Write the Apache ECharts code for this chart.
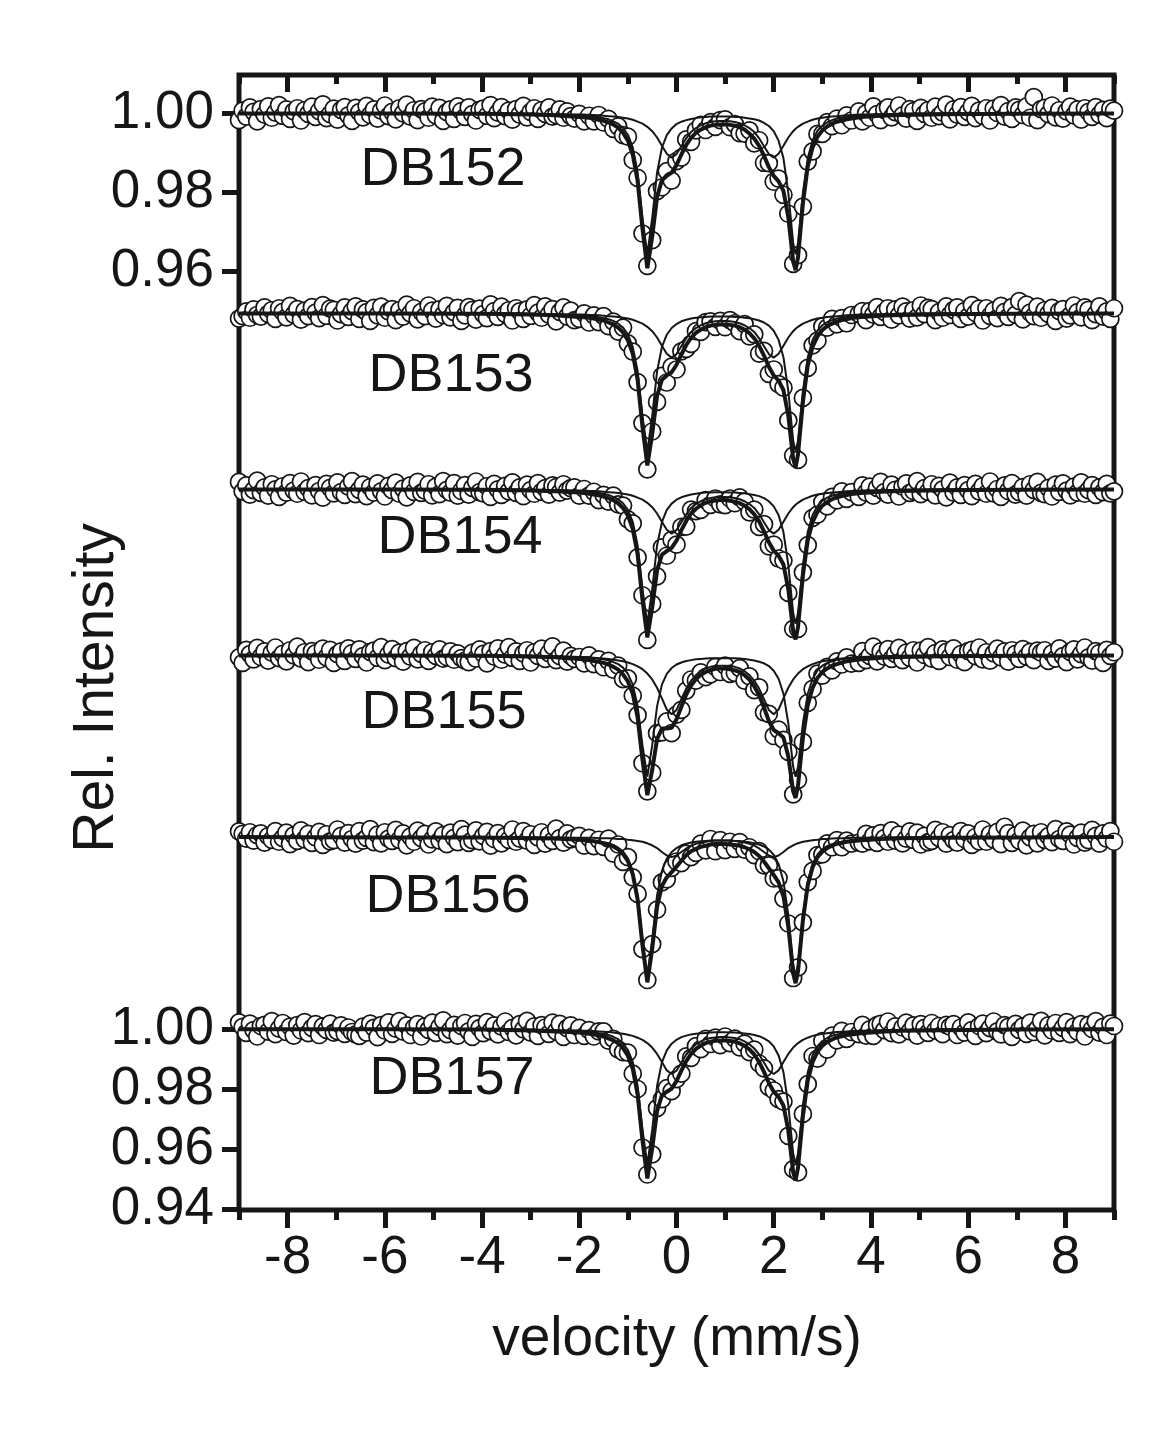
<!DOCTYPE html>
<html><head><meta charset="utf-8">
<script src="https://cdn.jsdelivr.net/npm/echarts@6/dist/echarts.min.js"></script>
<style>html,body{margin:0;padding:0;background:#fff}#chart{width:1169px;height:1433px}</style>
</head><body><div id="chart"></div>
<script>
// ---------- DATA ----------
const spectrumNames = ['DB152','DB153','DB154','DB155','DB156','DB157'];
const xTitle = 'velocity (mm/s)';
const yTitle = 'Rel. Intensity';
const xMajorTicks = [-8,-6,-4,-2,0,2,4,6,8];
const xMinorTicks = [-9,-7,-5,-3,-1,1,3,5,7,9];
const topYTicks = [0.96,0.98,1.00];
const bottomYTicks = [0.94,0.96,0.98,1.00];

// measured channels (mm/s)
const velocity = [-9,-8.925,-8.85,-8.775,-8.7,-8.625,-8.55,-8.475,-8.4,-8.325,-8.25,-8.175,-8.1,-8.025,-7.95,-7.875,-7.8,-7.725,-7.65,-7.575,-7.5,-7.425,-7.35,-7.275,-7.2,-7.125,-7.05,-6.975,-6.9,-6.825,-6.75,-6.675,-6.6,-6.525,-6.45,-6.375,-6.3,-6.225,-6.15,-6.075,-6,-5.925,-5.85,-5.775,-5.7,-5.625,-5.55,-5.475,-5.4,-5.325,-5.25,-5.175,-5.1,-5.025,-4.95,-4.875,-4.8,-4.725,-4.65,-4.575,-4.5,-4.425,-4.35,-4.275,-4.2,-4.125,-4.05,-3.975,-3.9,-3.825,-3.75,-3.675,-3.6,-3.525,-3.45,-3.375,-3.3,-3.225,-3.15,-3.075,-3,-2.925,-2.85,-2.775,-2.7,-2.625,-2.55,-2.475,-2.4,-2.325,-2.25,-2.175,-2.1,
-2,-1.9,-1.8,-1.7,-1.6,-1.5,-1.4,-1.3,-1.2,-1.1,-1,-0.9,-0.8,-0.7,-0.6,-0.5,-0.4,-0.3,-0.2,-0.1,0,0.1,0.2,0.3,0.4,0.5,0.6,0.7,0.8,0.9,1,1.1,1.2,1.3,1.4,1.5,1.6,1.7,1.8,1.9,2,2.1,2.2,2.3,2.4,2.5,2.6,2.7,2.8,2.9,3,3.1,3.2,3.3,3.4,3.5,3.6,
3.75,3.825,3.9,3.975,4.05,4.125,4.2,4.275,4.35,4.425,4.5,4.575,4.65,4.725,4.8,4.875,4.95,5.025,5.1,5.175,5.25,5.325,5.4,5.475,5.55,5.625,5.7,5.775,5.85,5.925,6,6.075,6.15,6.225,6.3,6.375,6.45,6.525,6.6,6.675,6.75,6.825,6.9,6.975,7.05,7.125,7.2,7.275,7.35,7.425,7.5,7.575,7.65,7.725,7.8,7.875,7.95,8.025,8.1,8.175,8.25,8.325,8.4,8.475,8.55,8.625,8.7,8.775,8.85,8.925,9];

// velocities of the fitted curves (mm/s)
const fitVelocity = [-9,-6,-4,-3,-2.5,-2,-1.9,-1.8,-1.7,-1.6,-1.5,-1.4,-1.3,-1.2,-1.1,-1,-0.9,-0.8,-0.7,-0.6,-0.5,-0.4,-0.3,-0.2,-0.1,0,0.1,0.2,0.3,0.4,0.5,0.6,0.7,0.8,0.9,1,1.1,1.2,1.3,1.4,1.5,1.6,1.7,1.8,1.9,2,2.1,2.2,2.3,2.4,2.45,2.5,2.6,2.7,2.8,2.9,3,3.1,3.2,3.3,3.4,3.5,3.6,3.8,4.2,4.6,5.5,7,9];

// DB152
const db152Data = [0.9982,1.0006,0.9991,1.0014,1.0003,0.9979,1.0010,0.9996,1.0017,0.9988,1.0001,1.0020,0.9993,1.0009,0.9985,1.0004,1.0012,0.9981,1.0007,0.9998,1.0016,0.9990,1.0005,1.0022,0.9987,0.9997,1.0011,0.9983,1.0008,1.0015,0.9994,0.9980,1.0013,1.0002,0.9989,1.0018,0.9995,1.0009,0.9986,1.0006,1.0019,0.9992,1.0003,0.9984,1.0012,0.9999,1.0021,0.9991,1.0007,0.9982,1.0010,1.0004,0.9988,1.0016,0.9994,1.0013,0.9980,1.0002,1.0009,0.9985,1.0017,1.0005,0.9990,1.0014,0.9997,0.9981,1.0008,1.0011,0.9993,1.0020,0.9987,1.0001,1.0015,0.9992,1.0006,0.9983,1.0010,0.9996,1.0018,0.9989,1.0003,1.0012,0.9985,1.0007,0.9998,1.0014,0.9991,0.9995,1.0009,0.9988,1.0004,0.9992,0.9986,
0.9998,0.9979,0.9993,0.9979,0.9995,0.9976,0.9985,0.9960,0.9966,0.9944,0.9940,0.9881,0.9836,0.9695,0.9613,0.9678,0.9802,0.9812,0.9853,0.9829,0.9878,0.9887,0.9933,0.9927,0.9956,0.9970,0.9957,0.9977,0.9965,0.9982,0.9984,0.9964,0.9972,0.9949,0.9948,0.9956,0.9923,0.9931,0.9874,0.9873,0.9826,0.9834,0.9793,0.9745,0.9618,0.9640,0.9763,0.9877,0.9903,0.9947,0.9947,0.9977,0.9967,0.9986,0.9969,0.9994,0.9981,
1.0004,0.9979,0.9999,0.9988,1.0017,0.9997,0.9982,1.0008,1.0014,0.9989,1.0002,1.0019,0.9994,0.9986,1.0010,1.0005,0.9980,1.0013,0.9998,1.0007,0.9988,1.0016,0.9992,1.0001,1.0021,0.9984,1.0009,0.9996,1.0015,0.9990,1.0003,1.0018,0.9987,1.0006,0.9993,1.0012,0.9981,1.0011,1.0000,1.0020,0.9991,1.0005,0.9985,1.0014,1.0008,0.9995,1.0017,0.9988,1.0040,0.9982,1.0010,1.0013,0.9997,1.0019,0.9989,1.0007,0.9986,1.0004,1.0016,0.9994,1.0009,0.9983,1.0012,1.0003,0.9990,1.0015,0.9996,1.0008,0.9987,1.0011,1.0006];
const db152Fit = [0.9999,0.9999,0.9998,0.9996,0.9994,0.9990,0.9989,0.9988,0.9986,0.9983,0.9980,0.9976,0.9971,0.9963,0.9950,0.9930,0.9895,0.9828,0.9707,0.9607,0.9687,0.9787,0.9830,0.9841,0.9849,0.9868,0.9895,0.9919,0.9937,0.9950,0.9958,0.9964,0.9968,0.9970,0.9971,0.9971,0.9970,0.9968,0.9964,0.9958,0.9948,0.9935,0.9917,0.9892,0.9863,0.9841,0.9827,0.9803,0.9736,0.9624,0.9602,0.9635,0.9771,0.9865,0.9913,0.9940,0.9956,0.9966,0.9973,0.9978,0.9981,0.9984,0.9986,0.9990,0.9993,0.9995,0.9997,0.9998,0.9999];
const db152A = [1.0000,1.0000,0.9999,0.9998,0.9997,0.9994,0.9994,0.9993,0.9991,0.9989,0.9987,0.9984,0.9979,0.9973,0.9962,0.9945,0.9913,0.9850,0.9734,0.9642,0.9734,0.9849,0.9912,0.9944,0.9961,0.9972,0.9978,0.9982,0.9985,0.9987,0.9989,0.9990,0.9991,0.9991,0.9991,0.9991,0.9991,0.9990,0.9990,0.9988,0.9986,0.9984,0.9981,0.9975,0.9967,0.9954,0.9930,0.9886,0.9798,0.9671,0.9642,0.9671,0.9798,0.9886,0.9931,0.9955,0.9968,0.9976,0.9982,0.9986,0.9988,0.9990,0.9992,0.9994,0.9996,0.9998,0.9999,0.9999,1.0000];
const db152B = [1.0000,0.9999,0.9999,0.9998,0.9997,0.9996,0.9996,0.9995,0.9995,0.9994,0.9993,0.9992,0.9991,0.9990,0.9988,0.9986,0.9983,0.9978,0.9973,0.9965,0.9954,0.9938,0.9917,0.9897,0.9887,0.9896,0.9916,0.9936,0.9952,0.9962,0.9969,0.9974,0.9977,0.9979,0.9980,0.9980,0.9979,0.9977,0.9974,0.9969,0.9962,0.9952,0.9936,0.9916,0.9896,0.9887,0.9897,0.9917,0.9938,0.9954,0.9960,0.9965,0.9973,0.9978,0.9983,0.9986,0.9988,0.9990,0.9991,0.9992,0.9993,0.9994,0.9995,0.9996,0.9997,0.9998,0.9999,0.9999,1.0000];

// DB153
const db153Data = [0.9986,0.9992,1.0004,0.9988,1.0009,0.9995,0.9991,1.0014,0.9998,1.0007,0.9985,1.0012,1.0003,0.9989,1.0018,0.9996,1.0010,0.9983,1.0006,0.9992,1.0015,1.0001,0.9987,1.0020,0.9993,1.0011,1.0008,0.9981,0.9997,1.0014,0.9990,1.0005,1.0017,0.9985,1.0009,1.0002,0.9980,1.0013,0.9994,1.0016,0.9988,1.0004,1.0010,0.9982,1.0007,0.9991,1.0021,0.9999,1.0012,0.9984,1.0003,0.9992,1.0019,1.0006,0.9986,1.0009,0.9995,1.0018,0.9989,1.0002,1.0013,0.9980,0.9994,1.0015,1.0008,0.9983,1.0011,0.9997,0.9987,1.0022,1.0005,0.9990,1.0016,0.9998,1.0007,0.9981,1.0012,1.0004,0.9985,1.0009,0.9993,1.0020,1.0001,0.9988,1.0017,0.9996,1.0010,0.9979,1.0003,1.0014,0.9991,1.0006,0.9982,
0.9985,0.9999,0.9976,0.9994,0.9977,0.9992,0.9967,0.9978,0.9953,0.9963,0.9923,0.9902,0.9825,0.9721,0.9604,0.9700,0.9775,0.9841,0.9824,0.9864,0.9857,0.9903,0.9909,0.9922,0.9954,0.9952,0.9977,0.9979,0.9965,0.9980,0.9964,0.9982,0.9974,0.9954,0.9972,0.9941,0.9946,0.9897,0.9904,0.9846,0.9857,0.9820,0.9811,0.9728,0.9639,0.9628,0.9785,0.9861,0.9918,0.9930,0.9966,0.9963,0.9985,0.9971,0.9987,0.9974,0.9995,
0.9998,1.0005,0.9982,1.0005,0.9996,1.0015,0.9990,1.0003,1.0012,0.9983,1.0009,0.9994,1.0016,1.0004,0.9986,1.0007,0.9989,1.0019,0.9997,1.0013,1.0010,0.9982,1.0002,0.9988,1.0017,0.9995,1.0008,1.0014,0.9985,1.0005,0.9991,1.0020,1.0000,1.0011,0.9981,1.0012,0.9993,1.0006,0.9987,1.0018,1.0003,0.9990,1.0015,0.9996,1.0030,0.9984,1.0021,1.0001,0.9992,1.0016,0.9988,1.0007,0.9998,1.0013,0.9980,1.0005,1.0010,0.9986,0.9994,1.0019,1.0002,0.9989,1.0014,1.0008,0.9982,0.9997,1.0017,0.9991,1.0004,0.9985,1.0012];
const db153Fit = [0.9999,0.9999,0.9998,0.9996,0.9994,0.9990,0.9989,0.9988,0.9986,0.9983,0.9981,0.9976,0.9971,0.9963,0.9951,0.9931,0.9897,0.9831,0.9712,0.9614,0.9693,0.9790,0.9831,0.9842,0.9850,0.9869,0.9895,0.9919,0.9937,0.9950,0.9958,0.9964,0.9968,0.9970,0.9971,0.9971,0.9970,0.9968,0.9964,0.9958,0.9949,0.9936,0.9917,0.9892,0.9864,0.9842,0.9829,0.9805,0.9740,0.9631,0.9609,0.9642,0.9775,0.9867,0.9915,0.9941,0.9957,0.9967,0.9973,0.9978,0.9982,0.9984,0.9987,0.9990,0.9993,0.9995,0.9997,0.9998,0.9999];
const db153A = [1.0000,1.0000,0.9999,0.9998,0.9997,0.9994,0.9994,0.9993,0.9991,0.9989,0.9987,0.9984,0.9980,0.9973,0.9963,0.9946,0.9914,0.9853,0.9739,0.9649,0.9739,0.9852,0.9914,0.9945,0.9962,0.9972,0.9979,0.9983,0.9986,0.9988,0.9989,0.9990,0.9991,0.9991,0.9991,0.9991,0.9991,0.9990,0.9990,0.9988,0.9987,0.9984,0.9981,0.9976,0.9968,0.9955,0.9932,0.9888,0.9802,0.9677,0.9649,0.9677,0.9802,0.9888,0.9932,0.9956,0.9969,0.9977,0.9982,0.9986,0.9988,0.9990,0.9992,0.9994,0.9996,0.9998,0.9999,0.9999,1.0000];
const db153B = db152B;

// DB154
const db154Data = [1.0018,0.9994,1.0009,0.9986,0.9997,1.0021,0.9990,1.0004,0.9983,1.0012,0.9999,0.9980,1.0007,0.9991,1.0015,0.9996,0.9988,1.0019,0.9993,1.0002,0.9984,1.0010,0.9995,0.9978,1.0013,1.0003,0.9989,1.0017,0.9992,0.9985,1.0006,1.0020,0.9987,0.9998,1.0011,0.9982,1.0005,0.9991,1.0014,0.9994,0.9981,1.0008,0.9997,1.0016,0.9988,1.0001,0.9979,1.0009,0.9993,1.0018,0.9990,0.9996,1.0012,0.9984,1.0006,0.9987,1.0020,0.9998,0.9991,1.0015,0.9983,0.9995,1.0010,0.9986,1.0003,1.0019,0.9992,0.9989,1.0007,0.9980,1.0013,0.9999,0.9985,1.0008,0.9994,1.0017,0.9990,1.0004,0.9982,1.0011,0.9997,0.9988,1.0015,0.9993,1.0002,0.9986,1.0009,1.0005,0.9991,1.0012,0.9996,1.0002,1.0004,
0.9983,1.0000,0.9983,0.9993,0.9972,0.9985,0.9968,0.9983,0.9961,0.9958,0.9923,0.9913,0.9827,0.9731,0.9618,0.9709,0.9779,0.9852,0.9831,0.9871,0.9859,0.9904,0.9905,0.9948,0.9944,0.9947,0.9972,0.9960,0.9976,0.9961,0.9959,0.9976,0.9964,0.9979,0.9968,0.9941,0.9948,0.9904,0.9911,0.9855,0.9859,0.9824,0.9819,0.9737,0.9646,0.9646,0.9789,0.9858,0.9927,0.9935,0.9967,0.9956,0.9980,0.9971,0.9994,0.9975,0.9992,
0.9980,1.0009,0.9991,1.0006,0.9983,1.0003,1.0018,0.9992,0.9986,1.0011,0.9998,0.9981,1.0006,1.0014,0.9990,0.9995,1.0020,0.9987,1.0002,0.9993,1.0012,0.9984,1.0008,0.9999,0.9979,1.0016,0.9991,1.0004,0.9985,1.0010,0.9997,0.9982,1.0013,0.9994,1.0007,0.9988,1.0019,0.9989,1.0000,0.9980,1.0009,0.9995,1.0015,0.9986,0.9992,1.0005,0.9983,1.0012,0.9998,1.0018,0.9990,0.9987,1.0003,0.9981,1.0011,0.9993,1.0014,0.9996,0.9984,1.0006,0.9991,1.0017,0.9988,0.9997,1.0010,0.9985,1.0004,0.9992,1.0013,0.9989,0.9994];
const db154Fit = [0.9999,0.9999,0.9998,0.9996,0.9994,0.9991,0.9990,0.9988,0.9986,0.9984,0.9981,0.9977,0.9972,0.9964,0.9952,0.9933,0.9899,0.9835,0.9719,0.9624,0.9700,0.9794,0.9834,0.9843,0.9851,0.9869,0.9896,0.9919,0.9938,0.9950,0.9959,0.9965,0.9969,0.9971,0.9972,0.9972,0.9970,0.9968,0.9964,0.9958,0.9949,0.9936,0.9918,0.9893,0.9865,0.9844,0.9831,0.9809,0.9746,0.9640,0.9619,0.9651,0.9781,0.9870,0.9917,0.9942,0.9958,0.9967,0.9974,0.9979,0.9982,0.9985,0.9987,0.9990,0.9993,0.9995,0.9997,0.9998,0.9999];
const db154A = [1.0000,1.0000,0.9999,0.9998,0.9997,0.9995,0.9994,0.9993,0.9992,0.9990,0.9988,0.9985,0.9980,0.9974,0.9964,0.9947,0.9917,0.9857,0.9746,0.9659,0.9746,0.9857,0.9916,0.9947,0.9963,0.9973,0.9979,0.9983,0.9986,0.9988,0.9990,0.9991,0.9991,0.9992,0.9992,0.9992,0.9991,0.9991,0.9990,0.9989,0.9987,0.9985,0.9982,0.9977,0.9969,0.9956,0.9934,0.9891,0.9808,0.9686,0.9659,0.9686,0.9808,0.9892,0.9934,0.9957,0.9970,0.9978,0.9983,0.9986,0.9989,0.9991,0.9992,0.9994,0.9996,0.9998,0.9999,0.9999,1.0000];
const db154B = db152B;

// DB155
const db155Data = [0.9994,0.9980,1.0013,1.0002,0.9989,1.0018,0.9995,1.0009,0.9986,1.0006,1.0019,0.9992,1.0003,0.9984,1.0012,0.9999,1.0021,0.9991,1.0007,0.9982,1.0010,1.0004,0.9988,1.0016,0.9994,1.0013,0.9980,1.0002,1.0009,0.9985,1.0017,1.0005,0.9990,1.0014,0.9997,0.9981,1.0008,1.0011,0.9993,1.0020,0.9987,1.0001,1.0015,0.9992,1.0006,0.9983,1.0010,0.9996,1.0018,0.9989,1.0003,1.0012,0.9985,1.0007,0.9998,1.0014,0.9991,0.9995,1.0009,0.9988,1.0004,0.9992,0.9986,0.9982,1.0006,0.9991,1.0014,1.0003,0.9979,1.0010,0.9996,1.0017,0.9988,1.0001,1.0020,0.9993,1.0009,0.9985,1.0004,1.0012,0.9981,1.0007,0.9998,1.0016,0.9990,1.0005,1.0022,0.9987,0.9997,1.0011,0.9983,0.9998,0.9990,
0.9995,0.9979,0.9999,0.9977,0.9989,0.9969,0.9985,0.9963,0.9973,0.9939,0.9941,0.9897,0.9848,0.9726,0.9655,0.9702,0.9802,0.9804,0.9832,0.9802,0.9849,0.9861,0.9910,0.9938,0.9935,0.9956,0.9944,0.9951,0.9970,0.9957,0.9973,0.9952,0.9955,0.9967,0.9935,0.9946,0.9911,0.9918,0.9855,0.9851,0.9795,0.9811,0.9785,0.9755,0.9647,0.9684,0.9780,0.9879,0.9914,0.9953,0.9948,0.9970,0.9961,0.9984,0.9976,0.9994,0.9978,
0.9980,1.0010,0.9987,0.9998,1.0021,0.9984,1.0009,0.9996,1.0015,0.9990,1.0003,1.0018,0.9987,1.0006,0.9993,1.0012,0.9981,1.0011,1.0000,1.0020,0.9991,1.0005,0.9985,1.0014,1.0008,0.9995,1.0017,0.9988,1.0002,0.9982,1.0010,1.0013,0.9997,1.0019,0.9989,1.0007,0.9986,1.0004,1.0016,0.9994,1.0009,0.9983,1.0012,1.0003,0.9990,1.0015,0.9996,1.0008,0.9987,1.0011,1.0006,1.0012,0.9985,1.0004,0.9991,1.0017,0.9997,0.9982,1.0008,1.0014,0.9989,1.0002,1.0019,0.9994,0.9986,1.0010,1.0005,0.9980,1.0013,0.9998,1.0007];
const db155Fit = [0.9999,0.9999,0.9998,0.9996,0.9994,0.9990,0.9989,0.9987,0.9985,0.9983,0.9980,0.9976,0.9970,0.9963,0.9951,0.9933,0.9902,0.9842,0.9735,0.9645,0.9709,0.9787,0.9814,0.9814,0.9816,0.9837,0.9869,0.9900,0.9923,0.9939,0.9950,0.9957,0.9962,0.9965,0.9966,0.9966,0.9964,0.9961,0.9957,0.9949,0.9938,0.9921,0.9898,0.9867,0.9833,0.9810,0.9802,0.9791,0.9743,0.9655,0.9638,0.9670,0.9790,0.9873,0.9917,0.9942,0.9957,0.9966,0.9973,0.9977,0.9981,0.9984,0.9986,0.9989,0.9993,0.9995,0.9997,0.9998,0.9999];
const db155A = [1.0000,1.0000,0.9999,0.9998,0.9997,0.9995,0.9995,0.9994,0.9992,0.9991,0.9989,0.9986,0.9982,0.9977,0.9968,0.9952,0.9925,0.9871,0.9771,0.9692,0.9771,0.9870,0.9925,0.9952,0.9967,0.9976,0.9981,0.9985,0.9987,0.9989,0.9990,0.9991,0.9992,0.9992,0.9992,0.9992,0.9992,0.9992,0.9991,0.9990,0.9988,0.9986,0.9983,0.9979,0.9972,0.9960,0.9940,0.9902,0.9827,0.9717,0.9692,0.9717,0.9827,0.9902,0.9940,0.9961,0.9973,0.9980,0.9984,0.9988,0.9990,0.9992,0.9993,0.9995,0.9997,0.9998,0.9999,0.9999,1.0000];
const db155B = [1.0000,0.9999,0.9999,0.9998,0.9996,0.9995,0.9994,0.9994,0.9993,0.9992,0.9991,0.9990,0.9988,0.9986,0.9984,0.9981,0.9977,0.9971,0.9964,0.9953,0.9938,0.9917,0.9890,0.9862,0.9850,0.9861,0.9888,0.9915,0.9935,0.9949,0.9959,0.9966,0.9970,0.9972,0.9973,0.9973,0.9972,0.9970,0.9966,0.9959,0.9949,0.9935,0.9915,0.9888,0.9861,0.9850,0.9862,0.9890,0.9917,0.9938,0.9946,0.9953,0.9964,0.9971,0.9977,0.9981,0.9984,0.9986,0.9988,0.9990,0.9991,0.9992,0.9993,0.9994,0.9996,0.9997,0.9998,0.9999,0.9999];

// DB156
const db156Data = [1.0014,1.0008,0.9996,1.0012,0.9991,1.0005,1.0009,0.9986,1.0002,0.9993,1.0015,0.9988,0.9997,1.0011,0.9982,1.0004,0.9990,1.0017,0.9994,1.0008,0.9985,0.9999,1.0013,0.9980,1.0007,0.9989,0.9992,1.0019,1.0003,0.9986,1.0010,0.9995,0.9983,1.0015,0.9991,0.9998,1.0020,0.9987,1.0006,0.9984,1.0012,0.9996,0.9990,1.0018,0.9993,1.0009,0.9979,1.0001,0.9988,1.0016,0.9997,1.0008,0.9981,0.9994,1.0014,0.9991,1.0005,0.9982,1.0011,0.9998,0.9987,1.0020,1.0006,0.9985,0.9992,1.0017,0.9989,1.0003,1.0013,0.9978,0.9995,1.0010,0.9984,1.0002,0.9993,1.0019,0.9988,0.9996,1.0015,0.9991,1.0007,0.9980,0.9999,1.0012,0.9983,1.0004,0.9990,1.0021,0.9997,0.9986,1.0009,0.9994,0.9998,
1.0003,0.9978,0.9998,0.9977,0.9993,0.9975,0.9996,0.9958,0.9981,0.9937,0.9949,0.9898,0.9856,0.9716,0.9638,0.9729,0.9816,0.9885,0.9893,0.9922,0.9938,0.9934,0.9958,0.9949,0.9960,0.9983,0.9966,0.9995,0.9964,0.9992,0.9967,0.9988,0.9970,0.9987,0.9968,0.9974,0.9954,0.9964,0.9928,0.9928,0.9895,0.9896,0.9844,0.9781,0.9643,0.9670,0.9784,0.9886,0.9914,0.9954,0.9956,0.9984,0.9974,0.9992,0.9974,0.9991,0.9983,
0.9986,0.9983,1.0008,0.9989,1.0004,0.9985,1.0010,0.9997,0.9988,1.0017,0.9991,1.0006,0.9984,0.9996,1.0014,0.9993,1.0011,0.9981,1.0003,0.9987,0.9990,1.0018,0.9998,1.0012,0.9983,1.0005,0.9992,0.9986,1.0015,0.9995,1.0009,0.9980,1.0000,0.9989,1.0019,0.9988,1.0007,0.9994,1.0013,0.9982,1.0026,1.0010,0.9985,1.0004,0.9991,1.0016,0.9979,0.9999,1.0008,0.9984,1.0012,0.9993,1.0002,0.9987,1.0020,0.9995,0.9990,1.0014,1.0006,0.9981,0.9998,1.0011,0.9986,0.9992,1.0018,1.0003,0.9983,1.0009,0.9996,1.0015,0.9988];
const db156Fit = [1.0000,0.9999,0.9999,0.9997,0.9996,0.9993,0.9992,0.9990,0.9989,0.9987,0.9984,0.9981,0.9976,0.9969,0.9957,0.9939,0.9906,0.9842,0.9726,0.9632,0.9717,0.9823,0.9876,0.9898,0.9911,0.9925,0.9940,0.9954,0.9964,0.9970,0.9975,0.9978,0.9981,0.9982,0.9982,0.9982,0.9981,0.9980,0.9978,0.9974,0.9969,0.9962,0.9952,0.9938,0.9921,0.9904,0.9885,0.9850,0.9773,0.9655,0.9630,0.9660,0.9789,0.9878,0.9924,0.9949,0.9963,0.9972,0.9978,0.9983,0.9985,0.9988,0.9989,0.9992,0.9995,0.9997,0.9998,0.9999,1.0000];
const db156A = db153A;
const db156B = [1.0000,1.0000,1.0000,0.9999,0.9999,0.9998,0.9998,0.9998,0.9998,0.9997,0.9997,0.9997,0.9996,0.9995,0.9995,0.9993,0.9992,0.9990,0.9988,0.9984,0.9979,0.9972,0.9962,0.9953,0.9949,0.9953,0.9962,0.9971,0.9978,0.9983,0.9986,0.9988,0.9990,0.9991,0.9991,0.9991,0.9991,0.9990,0.9988,0.9986,0.9983,0.9978,0.9971,0.9962,0.9953,0.9949,0.9953,0.9962,0.9972,0.9979,0.9982,0.9984,0.9988,0.9990,0.9992,0.9993,0.9995,0.9995,0.9996,0.9997,0.9997,0.9997,0.9998,0.9998,0.9999,0.9999,0.9999,1.0000,1.0000];

// DB157
const db157Data = [1.0022,1.0007,0.9987,1.0018,0.9996,0.9975,1.0010,1.0014,0.9991,1.0026,0.9983,1.0001,1.0020,0.9990,1.0008,0.9978,1.0013,0.9995,1.0023,0.9986,1.0004,1.0016,0.9980,1.0009,0.9997,1.0018,0.9988,0.9993,1.0012,0.9984,1.0005,0.9990,0.9982,0.9977,1.0008,0.9988,1.0018,1.0004,0.9973,1.0013,0.9995,1.0022,0.9984,1.0001,1.0026,0.9991,1.0012,0.9980,1.0005,1.0016,0.9975,1.0009,0.9997,1.0021,0.9987,1.0007,1.0029,0.9983,0.9996,1.0014,0.9978,1.0010,1.0020,0.9992,0.9974,1.0017,1.0003,0.9986,1.0023,0.9993,1.0012,0.9982,1.0008,1.0025,0.9990,1.0004,0.9979,1.0016,0.9999,1.0027,0.9988,1.0009,0.9977,1.0013,1.0005,0.9984,1.0021,0.9992,1.0017,0.9974,1.0003,1.0012,0.9980,
1.0004,0.9977,0.9996,0.9975,0.9992,0.9992,0.9961,0.9967,0.9932,0.9923,0.9921,0.9851,0.9800,0.9605,0.9515,0.9582,0.9736,0.9766,0.9803,0.9793,0.9833,0.9851,0.9909,0.9904,0.9943,0.9933,0.9967,0.9950,0.9971,0.9946,0.9975,0.9953,0.9968,0.9939,0.9951,0.9923,0.9931,0.9885,0.9869,0.9806,0.9795,0.9766,0.9758,0.9644,0.9533,0.9522,0.9717,0.9816,0.9910,0.9901,0.9960,0.9931,0.9978,0.9962,0.9994,0.9967,0.9990,
0.9983,1.0014,0.9978,0.9999,0.9977,1.0013,1.0017,0.9996,1.0025,0.9986,1.0009,0.9982,1.0005,1.0021,0.9992,1.0012,0.9978,1.0016,1.0004,0.9987,1.0020,0.9995,1.0010,0.9983,1.0014,1.0008,1.0016,0.9980,1.0005,0.9988,1.0022,0.9996,0.9977,1.0010,1.0018,0.9986,1.0003,1.0025,0.9992,0.9982,1.0013,1.0007,0.9974,1.0017,0.9997,1.0009,0.9984,1.0021,0.9990,1.0001,1.0027,0.9979,1.0012,0.9995,1.0020,0.9987,1.0004,1.0023,0.9983,1.0008,0.9991,1.0016,0.9975,1.0014,1.0000,1.0026,0.9988,1.0007,0.9980,1.0018,1.0010];
const db157Fit = [0.9999,0.9999,0.9998,0.9995,0.9992,0.9988,0.9986,0.9984,0.9982,0.9978,0.9975,0.9969,0.9962,0.9952,0.9936,0.9911,0.9867,0.9782,0.9628,0.9502,0.9602,0.9727,0.9779,0.9791,0.9801,0.9826,0.9861,0.9893,0.9917,0.9934,0.9945,0.9953,0.9958,0.9961,0.9962,0.9962,0.9960,0.9958,0.9952,0.9944,0.9932,0.9915,0.9890,0.9857,0.9820,0.9791,0.9774,0.9745,0.9662,0.9523,0.9495,0.9538,0.9709,0.9828,0.9890,0.9924,0.9944,0.9957,0.9965,0.9972,0.9976,0.9980,0.9982,0.9986,0.9991,0.9994,0.9996,0.9998,0.9999];
const db157A = [1.0000,0.9999,0.9999,0.9997,0.9996,0.9993,0.9992,0.9990,0.9989,0.9986,0.9984,0.9980,0.9974,0.9966,0.9952,0.9930,0.9890,0.9811,0.9664,0.9549,0.9664,0.9810,0.9889,0.9929,0.9951,0.9964,0.9973,0.9978,0.9982,0.9984,0.9986,0.9987,0.9988,0.9989,0.9989,0.9989,0.9988,0.9988,0.9987,0.9985,0.9983,0.9980,0.9976,0.9969,0.9959,0.9942,0.9912,0.9856,0.9746,0.9585,0.9549,0.9585,0.9746,0.9856,0.9913,0.9943,0.9960,0.9970,0.9977,0.9982,0.9985,0.9988,0.9990,0.9992,0.9995,0.9997,0.9998,0.9999,1.0000];
const db157B = db155B;

// ---------- LAYOUT / STYLE ----------
const INK = '#161616';
const FONT = '"Liberation Sans", Arial, Helvetica, sans-serif';
const G = {left: 239, right: 55, top: 75, bottom: 223};
const plotH = 1433 - G.top - G.bottom;
const baselinePx = [113, 313, 489, 655, 837, 1029];
const pxPerUnit = [3950, 3950, 3950, 3950, 3950, 3000];
const labelPos = [[443,170],[451,376],[460,538],[444,713],[448,897],[452,1079]];

const spectra = [
  {data: db152Data, fit: db152Fit, a: db152A, b: db152B},
  {data: db153Data, fit: db153Fit, a: db153A, b: db153B},
  {data: db154Data, fit: db154Fit, a: db154A, b: db154B},
  {data: db155Data, fit: db155Fit, a: db155A, b: db155B},
  {data: db156Data, fit: db156Fit, a: db156A, b: db156B},
  {data: db157Data, fit: db157Fit, a: db157A, b: db157B}
];

const yAxes = spectra.map((s, i) => {
  const max = 1 + (baselinePx[i] - G.top) / pxPerUnit[i];
  const min = max - plotH / pxPerUnit[i];
  const ticks = i === 0 ? topYTicks : (i === 5 ? bottomYTicks : null);
  return {
    type: 'value', min: min, max: max, position: 'left', offset: 0, show: !!ticks,
    axisLine: {show: false, onZero: false}, splitLine: {show: false},
    axisTick: ticks ? {show: true, inside: false, length: 17, customValues: ticks, lineStyle: {width: 5, color: INK}} : {show: false},
    axisLabel: ticks ? {show: true, customValues: ticks, formatter: v => v.toFixed(2), fontSize: 53, fontFamily: FONT, color: INK, margin: 25} : {show: false}
  };
});

function xAx(pos, ticks, len, inside, labels) {
  return {
    type: 'value', min: -9, max: 9, position: pos, offset: 0,
    axisLine: {show: false, onZero: false}, splitLine: {show: false},
    axisTick: {show: true, inside: inside, length: len, customValues: ticks, lineStyle: {width: 5, color: INK}},
    axisLabel: labels ? {show: true, customValues: ticks, fontSize: 53, fontFamily: FONT, color: INK, margin: 22} : {show: false}
  };
}

function pairs(xs, ys) {
  const n = Math.min(xs.length, ys.length);
  const out = [];
  for (let k = 0; k < n; k++) out.push([xs[k], ys[k]]);
  return out;
}

const series = [];
spectra.forEach((s, i) => {
  series.push({
    type: 'scatter', xAxisIndex: 0, yAxisIndex: i, clip: false, z: 2,
    symbol: 'circle', symbolSize: 17,
    itemStyle: {color: '#ffffff', borderColor: INK, borderWidth: 1.7, opacity: 1},
    data: pairs(velocity, s.data)
  });
  [s.a, s.b].forEach(comp => series.push({
    type: 'line', xAxisIndex: 0, yAxisIndex: i, z: 3, showSymbol: false, symbol: 'none',
    lineStyle: {width: 2, color: INK},
    data: pairs(fitVelocity, comp)
  }));
  series.push({
    type: 'line', xAxisIndex: 0, yAxisIndex: i, z: 4, showSymbol: false, symbol: 'none',
    lineStyle: {width: 4, color: INK},
    data: pairs(fitVelocity, s.fit)
  });
});

const graphics = spectrumNames.map((n, i) => ({
  type: 'text', x: labelPos[i][0], y: labelPos[i][1], z: 10,
  style: {text: n, fontSize: 54, fontFamily: FONT, fill: INK, textAlign: 'center', textVerticalAlign: 'middle', align: 'center', verticalAlign: 'middle'}
}));
graphics.push({type: 'text', x: 677, y: 1340, z: 10,
  style: {text: xTitle, fontSize: 55, fontFamily: FONT, fill: INK, textAlign: 'center', textVerticalAlign: 'middle', align: 'center', verticalAlign: 'middle'}});
graphics.push({type: 'text', x: 97, y: 688, rotation: Math.PI / 2, z: 10,
  style: {text: yTitle, fontSize: 57, fontFamily: FONT, fill: INK, textAlign: 'center', textVerticalAlign: 'middle', align: 'center', verticalAlign: 'middle'}});

const chart = echarts.init(document.getElementById('chart'), null, {renderer: 'canvas'});
chart.setOption({
  animation: false,
  backgroundColor: '#ffffff',
  grid: {left: G.left, right: G.right, top: G.top, bottom: G.bottom, show: true, borderWidth: 5, borderColor: INK, backgroundColor: 'transparent'},
  xAxis: [
    xAx('bottom', xMajorTicks, 18, false, true),
    xAx('bottom', xMinorTicks, 10, false, false),
    xAx('top', xMajorTicks, 17, true, false),
    xAx('top', xMinorTicks, 9, true, false)
  ],
  yAxis: yAxes,
  series: series,
  graphic: graphics
});
</script>
</body></html>
